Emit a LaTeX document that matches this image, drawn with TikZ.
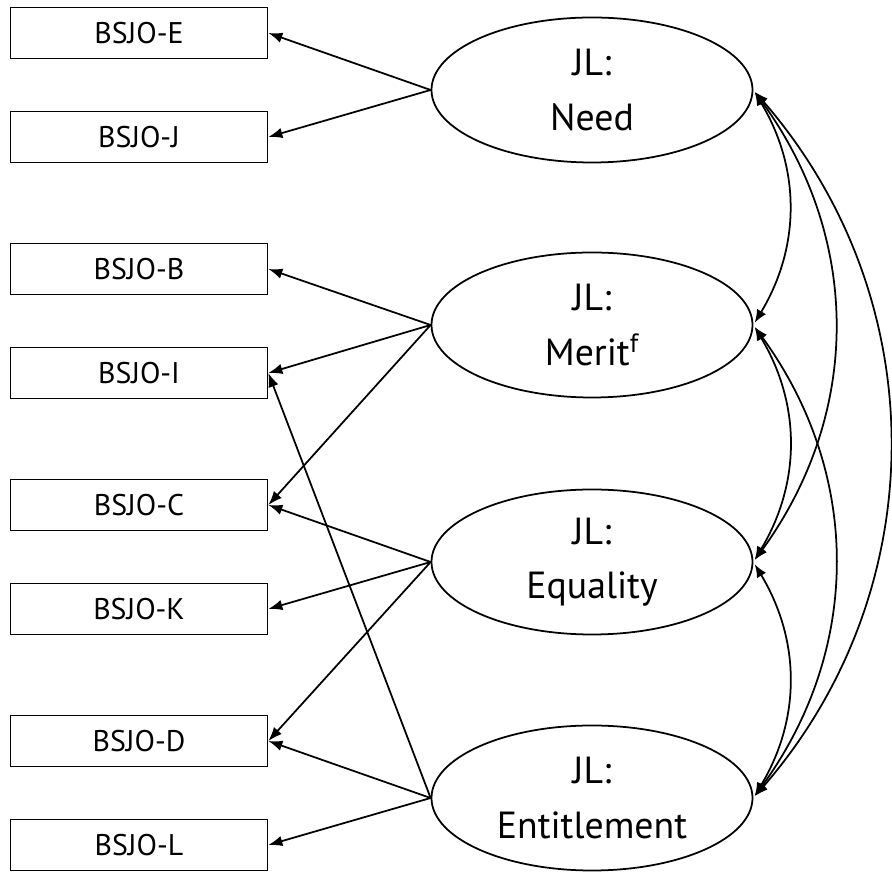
\documentclass[tikz,border=0pt]{standalone}
\usepackage{fontspec}
\setmainfont{PT Sans}
\usetikzlibrary{shapes.geometric,arrows.meta}

\begin{document}
\begin{tikzpicture}[
  item/.style={draw,line width=1pt,rectangle,minimum width=5.14cm,minimum height=1.02cm,
    font=\fontsize{17}{20}\selectfont},
  factor/.style={draw,line width=1pt,ellipse,minimum width=6.42cm,minimum height=2.9cm,
    align=center,font=\fontsize{21.5}{31}\selectfont},
  load/.style={line width=1pt,-{Latex[length=2.8mm,width=2.1mm]}},
  cov/.style={line width=1pt,{Latex[length=2.6mm,width=2.1mm]}-{Latex[length=2.6mm,width=2.1mm]},
    shorten <=1.5pt,shorten >=1.5pt}]

\useasboundingbox (0,0) rectangle (17.84,17.44);

\node[item] (bE) at (2.78,16.78) {BSJO-E};
\node[item] (bJ) at (2.78,14.70) {BSJO-J};
\node[item] (bB) at (2.78,12.06) {BSJO-B};
\node[item] (bI) at (2.78,9.98) {BSJO-I};
\node[item] (bC) at (2.78,7.34) {BSJO-C};
\node[item] (bK) at (2.78,5.26) {BSJO-K};
\node[item] (bD) at (2.78,2.62) {BSJO-D};
\node[item] (bL) at (2.78,0.54) {BSJO-L};

\node[factor] (need) at (11.84,15.64) {JL:\\Need};
\node[factor] (merit) at (11.84,10.94) {JL:\\Merit\textsuperscript{f}};
\node[factor] (equal) at (11.84,6.20) {JL:\\Equality};
\node[factor] (entit) at (11.84,1.48) {JL:\\Entitlement};

% loadings
\draw[load] (need.west) -- (bE.east);
\draw[load] (need.west) -- (bJ.east);
\draw[load] (merit.west) -- (bB.east);
\draw[load] (merit.west) -- (bI.east);
\draw[load] (merit.west) -- (bC.east);
\draw[load] (equal.west) -- (bC.east);
\draw[load] (equal.west) -- (bK.east);
\draw[load] (equal.west) -- (bD.east);
\draw[load] (entit.west) -- (bI.east);
\draw[load] (entit.west) -- (bD.east);
\draw[load] (entit.west) -- (bL.east);

% covariances
\draw[cov] (need.east) to[bend left=31] (merit.east);
\draw[cov] (merit.east) to[bend left=31] (equal.east);
\draw[cov] (equal.east) to[bend left=31] (entit.east);
\draw[cov] (need.east) to[bend left=36] (equal.east);
\draw[cov] (merit.east) to[bend left=36] (entit.east);
\draw[cov] (need.east) to[bend left=41] (entit.east);
\end{tikzpicture}
\end{document}
